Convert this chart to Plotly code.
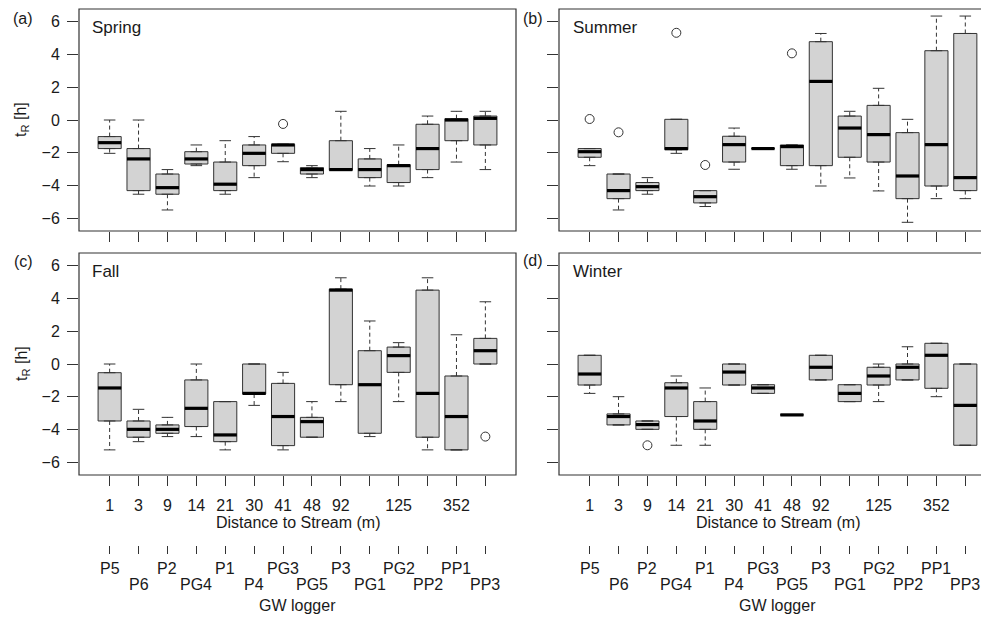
import plotly.graph_objects as go

# The page body has an 8px margin, so the figure is drawn 8px in from the top-left corner.
OFF = 8
W, H = 989 - OFF, 618 - OFF
FONT = "Liberation Sans, Arial, sans-serif"
TXT = "#1a1a1a"
LINE = "#333333"

positions = list(range(1, 15))
distance_labels = ["1", "3", "9", "14", "21", "30", "41", "48", "92", "", "125", "", "352", ""]
logger_labels = ["P5", "P6", "P2", "PG4", "P1", "P4", "PG3", "PG5", "P3", "PG1", "PG2", "PP2", "PP1", "PP3"]

# ---- Spring ----
spring_hi = [0.00, 0.00, -3.02, -1.52, -1.26, -1.01, -1.48, -2.78, 0.53, -1.74, -1.52, 0.24, 0.53, 0.53]
spring_q3 = [-1.01, -1.74, -3.29, -1.93, -2.56, -1.52, -1.48, -2.90, -1.26, -2.37, -2.72, -0.26, 0.08, 0.24]
spring_med = [-1.38, -2.37, -4.12, -2.37, -3.91, -2.03, -1.52, -3.02, -3.02, -3.02, -2.78, -1.74, 0.00, 0.10]
spring_q1 = [-1.74, -4.30, -4.52, -2.68, -4.30, -2.78, -2.03, -3.29, -3.06, -3.51, -3.81, -3.02, -1.26, -1.52]
spring_lo = [-2.03, -4.52, -5.48, -2.78, -4.52, -3.51, -2.54, -3.51, -3.06, -4.02, -4.02, -3.51, -2.56, -3.02]
spring_out_x = [7]
spring_out_y = [-0.24]

# ---- Summer ----
summer_hi = [-1.74, -3.29, -3.51, 0.04, -4.30, -0.49, -1.74, -1.52, 5.27, 0.53, 1.93, 0.04, 6.33, 6.33]
summer_q3 = [-1.74, -3.29, -3.81, 0.04, -4.30, -0.99, -1.74, -1.52, 4.77, 0.24, 0.89, -0.77, 4.22, 5.27]
summer_med = [-1.93, -4.30, -4.06, -1.74, -4.67, -1.50, -1.74, -1.62, 2.35, -0.49, -0.89, -3.41, -1.50, -3.51]
summer_q1 = [-2.27, -4.79, -4.30, -1.81, -5.05, -2.56, -1.74, -2.78, -2.78, -2.27, -2.56, -4.79, -4.02, -4.30]
summer_lo = [-2.78, -5.48, -4.52, -2.03, -5.27, -3.00, -1.74, -3.00, -4.02, -3.53, -4.32, -6.23, -4.79, -4.79]
summer_out_x = [1, 2, 4, 5, 8]
summer_out_y = [0.06, -0.75, 5.31, -2.74, 4.06]

# ---- Fall ----
fall_hi = [0.00, -2.76, -3.25, 0.00, -2.29, 0.00, -0.51, -2.29, 5.25, 2.62, 1.30, 5.25, 1.78, 3.79]
fall_q3 = [-0.53, -3.47, -3.71, -0.97, -2.29, 0.00, -1.18, -3.25, 4.56, 0.81, 1.03, 4.50, -0.73, 1.56]
fall_med = [-1.46, -3.98, -3.98, -2.70, -4.32, -1.79, -3.20, -3.51, 4.50, -1.26, 0.51, -1.79, -3.20, 0.81]
fall_q1 = [-3.47, -4.46, -4.22, -3.81, -4.73, -1.83, -4.97, -4.46, -1.26, -4.22, -0.51, -4.46, -5.23, 0.00]
fall_lo = [-5.23, -4.73, -4.42, -4.42, -5.23, -2.52, -5.23, -4.46, -2.29, -4.42, -2.29, -5.23, -5.23, 0.00]
fall_out_x = [14]
fall_out_y = [-4.42]

# ---- Winter ----
winter_hi = [0.53, -1.99, -3.47, -0.73, -1.46, 0.00, -1.26, -3.10, 0.53, -1.26, 0.00, 1.05, 1.26, 0.00]
winter_q3 = [0.53, -3.04, -3.47, -1.14, -2.29, 0.00, -1.26, -3.10, 0.53, -1.26, -0.20, 0.00, 1.26, 0.00]
winter_med = [-0.61, -3.20, -3.69, -1.46, -3.47, -0.49, -1.46, -3.10, -0.20, -1.79, -0.73, -0.20, 0.53, -2.52]
winter_q1 = [-1.28, -3.71, -3.98, -3.20, -3.98, -1.28, -1.79, -3.10, -0.97, -2.29, -1.28, -0.97, -1.48, -4.95]
winter_lo = [-1.79, -3.71, -3.98, -4.95, -4.95, -1.28, -1.79, -3.10, -0.97, -2.29, -2.29, -0.97, -1.99, -4.95]
winter_out_x = [3]
winter_out_y = [-4.95]

seasons = [
    ("Spring", spring_hi, spring_q3, spring_med, spring_q1, spring_lo, spring_out_x, spring_out_y),
    ("Summer", summer_hi, summer_q3, summer_med, summer_q1, summer_lo, summer_out_x, summer_out_y),
    ("Fall", fall_hi, fall_q3, fall_med, fall_q1, fall_lo, fall_out_x, fall_out_y),
    ("Winter", winter_hi, winter_q3, winter_med, winter_q1, winter_lo, winter_out_x, winter_out_y),
]
panel_tags = ["(a)", "(b)", "(c)", "(d)"]

BOX_W = 0.8
STAPLE_HW = 0.2


def px_x(p):
    return (p - OFF) / W


def px_y(p):
    return 1 - (p - OFF) / H


fig = go.Figure()

for i, (name, hi, q3, med, q1, lo, ox, oy) in enumerate(seasons):
    xa = "x" if i == 0 else f"x{i+1}"
    ya = "y" if i == 0 else f"y{i+1}"
    fig.add_trace(go.Box(
        x=positions, q1=q1, median=med, q3=q3, lowerfence=q1, upperfence=q3,
        width=BOX_W, fillcolor="#d3d3d3", line=dict(color=LINE, width=1),
        boxpoints=False, xaxis=xa, yaxis=ya, showlegend=False, hoverinfo="skip",
    ))
    wx, wy = [], []
    sx, sy = [], []
    mx, my = [], []
    for p, h, a, m, b, l in zip(positions, hi, q3, med, q1, lo):
        if h > a:
            wx += [p, p, None]
            wy += [a, h, None]
        if l < b:
            wx += [p, p, None]
            wy += [b, l, None]
        sx += [p - STAPLE_HW, p + STAPLE_HW, None, p - STAPLE_HW, p + STAPLE_HW, None]
        sy += [h, h, None, l, l, None]
        mx += [p - BOX_W / 2, p + BOX_W / 2, None]
        my += [m, m, None]
    fig.add_trace(go.Scatter(x=wx, y=wy, mode="lines", line=dict(color=LINE, width=1, dash="4px,3px"),
                             xaxis=xa, yaxis=ya, showlegend=False, hoverinfo="skip"))
    fig.add_trace(go.Scatter(x=sx, y=sy, mode="lines", line=dict(color=LINE, width=1),
                             xaxis=xa, yaxis=ya, showlegend=False, hoverinfo="skip"))
    fig.add_trace(go.Scatter(x=mx, y=my, mode="lines", line=dict(color="#000000", width=3.2),
                             xaxis=xa, yaxis=ya, showlegend=False, hoverinfo="skip"))
    fig.add_trace(go.Scatter(x=ox, y=oy, mode="markers",
                             marker=dict(symbol="circle-open", size=9, color=LINE, line=dict(width=1)),
                             xaxis=xa, yaxis=ya, showlegend=False, hoverinfo="skip"))

# dummy traces for the logger tick axes
fig.add_trace(go.Scatter(x=[1], y=[0], mode="markers", marker=dict(opacity=0), xaxis="x5", yaxis="y3",
                         showlegend=False, hoverinfo="skip"))
fig.add_trace(go.Scatter(x=[1], y=[0], mode="markers", marker=dict(opacity=0), xaxis="x6", yaxis="y4",
                         showlegend=False, hoverinfo="skip"))

left_dom = [px_x(79), px_x(516)]
right_dom = [px_x(559), 1.0]
left_rng = [-0.06, 15.06]
right_rng = [-0.06, 14.82]
top_dom = [px_y(231), px_y(9)]
bot_dom = [px_y(475), px_y(253)]
yrng = [-6.76, 6.76]

tickfont = dict(family=FONT, size=16, color=TXT)


def xaxis(dom, rng, anchor, labels):
    d = dict(domain=dom, range=rng, anchor=anchor, tickmode="array", tickvals=positions,
             ticks="outside", ticklen=10, tickcolor=LINE, tickwidth=1,
             showline=False, showgrid=False, zeroline=False, tickfont=tickfont)
    if labels:
        d.update(ticktext=distance_labels, showticklabels=True, ticklabelstandoff=6)
    else:
        d.update(showticklabels=False)
    return d


def yaxis(dom, anchor, labels):
    return dict(domain=dom, range=yrng, anchor=anchor, tickmode="array",
                tickvals=[-6, -4, -2, 0, 2, 4, 6], ticks="outside", ticklen=11, tickcolor=LINE,
                tickwidth=1, showline=False, showgrid=False, zeroline=False,
                showticklabels=labels, tickfont=tickfont, ticklabelstandoff=4)


fig.update_layout(
    width=W, height=H, margin=dict(l=0, r=0, t=0, b=0),
    paper_bgcolor="white", plot_bgcolor="white", showlegend=False,
    font=dict(family=FONT, size=16, color=TXT),
    xaxis=xaxis(left_dom, left_rng, "y", False),
    yaxis=yaxis(top_dom, "x", True),
    xaxis2=xaxis(right_dom, right_rng, "y2", False),
    yaxis2=yaxis(top_dom, "x2", False),
    xaxis3=xaxis(left_dom, left_rng, "y3", True),
    yaxis3=yaxis(bot_dom, "x3", True),
    xaxis4=xaxis(right_dom, right_rng, "y4", True),
    yaxis4=yaxis(bot_dom, "x4", False),
    xaxis5=dict(domain=left_dom, range=left_rng, overlaying="x3", anchor="free", position=px_y(545),
                side="bottom", tickmode="array", tickvals=positions, ticks="outside", ticklen=8,
                tickcolor=LINE, showline=False, showgrid=False, zeroline=False, showticklabels=False),
    xaxis6=dict(domain=right_dom, range=right_rng, overlaying="x4", anchor="free", position=px_y(545),
                side="bottom", tickmode="array", tickvals=positions, ticks="outside", ticklen=8,
                tickcolor=LINE, showline=False, showgrid=False, zeroline=False, showticklabels=False),
)

shapes = []
for xa, ya, x1 in [("x", "y", 1), ("x2", "y2", 1.05), ("x3", "y3", 1), ("x4", "y4", 1.05)]:
    shapes.append(dict(type="rect", xref=f"{xa} domain", yref=f"{ya} domain", x0=0, x1=x1, y0=0, y1=1,
                       line=dict(color=LINE, width=1.2), fillcolor="rgba(0,0,0,0)", layer="above"))
fig.update_layout(shapes=shapes)

ann = []
tag_pos = [(23, 19), (533, 18), (23, 262), (533, 261)]
season_pos = [(90, 27), (571, 27), (90, 271), (571, 271)]
for i, (name, *_rest) in enumerate(seasons):
    tx, ty = tag_pos[i]
    ann.append(dict(text=panel_tags[i], x=px_x(tx), y=px_y(ty), xref="paper", yref="paper",
                    xanchor="center", yanchor="middle", showarrow=False, font=dict(size=16)))
    sx_, sy_ = season_pos[i]
    ann.append(dict(text=name, x=px_x(sx_), y=px_y(sy_), xref="paper", yref="paper",
                    xanchor="left", yanchor="middle", showarrow=False, font=dict(size=17)))

for yc in [120, 364]:
    ann.append(dict(text="t<sub>R</sub> [h]", x=px_x(22), y=px_y(yc), xref="paper", yref="paper",
                    xanchor="center", yanchor="middle", textangle=-90, showarrow=False, font=dict(size=16)))

for xc in [297.5, 777.5]:
    ann.append(dict(text="Distance to Stream (m)", x=px_x(xc), y=px_y(522), xref="paper", yref="paper",
                    xanchor="center", yanchor="middle", showarrow=False, font=dict(size=16)))
    ann.append(dict(text="GW logger", x=px_x(xc), y=px_y(605), xref="paper", yref="paper",
                    xanchor="center", yanchor="middle", showarrow=False, font=dict(size=16)))

for xa in ["x3", "x4"]:
    for k, (p, lab) in enumerate(zip(positions, logger_labels)):
        ann.append(dict(text=lab, x=p, y=px_y(568 if k % 2 == 0 else 584), xref=xa, yref="paper",
                        xanchor="center", yanchor="middle", showarrow=False, font=dict(size=16)))

fig.update_layout(annotations=ann)

fig.write_html("out.html")
